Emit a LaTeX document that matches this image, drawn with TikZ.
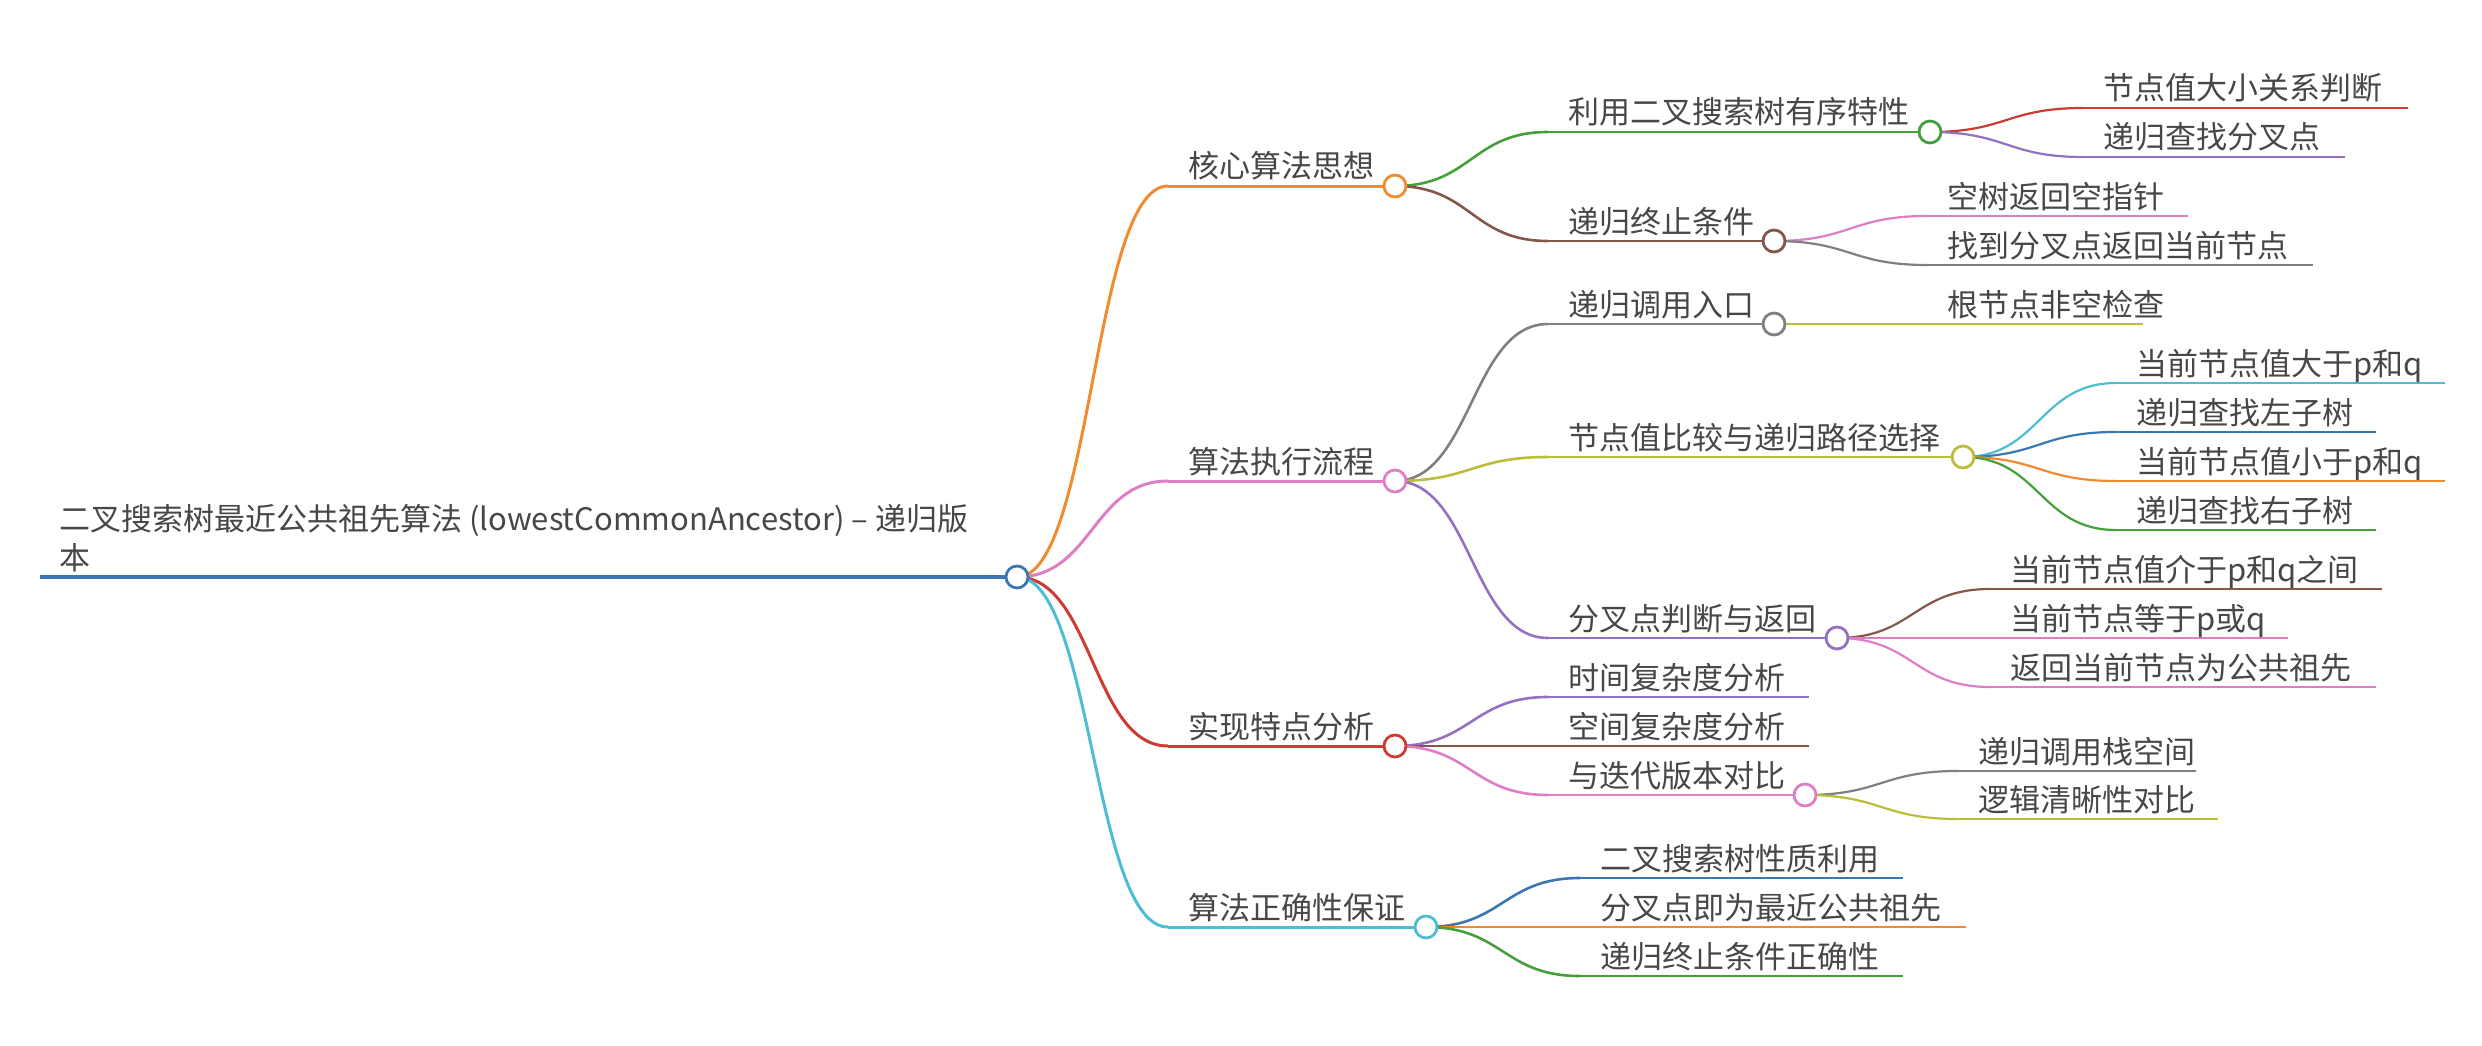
\documentclass[tikz,border=0pt]{standalone}
\usepackage{fontspec}
\setmainfont{Noto Sans CJK SC}
\usetikzlibrary{calc}
\definecolor{cBlue}{HTML}{3A77B3}
\definecolor{cOrange}{HTML}{F28A30}
\definecolor{cGreen}{HTML}{45A03C}
\definecolor{cRed}{HTML}{CD3B33}
\definecolor{cPurple}{HTML}{9470C0}
\definecolor{cBrown}{HTML}{85574B}
\definecolor{cPink}{HTML}{DE7EC6}
\definecolor{cGray}{HTML}{808080}
\definecolor{cOlive}{HTML}{BCBD3A}
\definecolor{cCyan}{HTML}{4CBDD2}
\definecolor{txt}{HTML}{474747}
\tikzset{
  lbl/.style={anchor=base west, inner sep=0pt, text=txt, font=\fontsize{31}{40}\selectfont},
  dot/.style={circle, draw=#1, fill=white, line width=2.8pt, minimum size=22pt, inner sep=0pt},
  lw0/.style={line width=4.5pt},
  lw1/.style={line width=3pt},
  lw2/.style={line width=2.6pt},
  lw3/.style={line width=2.2pt},
}
% name, style(color+width), x0, x1, y, text
\newcommand\mmnode[6]{%
  \coordinate (#1-s) at (#3,#5);
  \coordinate (#1-e) at (#4,#5);
  \draw[#2] (#1-s) -- (#1-e);
  \node[lbl] (#1) at ({#3+20},{#5-8}) {#6};
}
\newcommand\mmlink[3]{%
  \draw[#1] let \p1=(#2), \p2=(#3) in (#2) .. controls ({(\x1+\x2)/2},\y1) and ({(\x1+\x2)/2},\y2) .. (#3);
}
\begin{document}
\begin{tikzpicture}[x=1pt,y=-1pt]
\useasboundingbox (0,0) rectangle (2482,1046);
% root
\coordinate (R-s) at (40,577);
\coordinate (R-e) at (1017,577);
\draw[cBlue,lw0] (R-s) -- (R-e);
\node[lbl] (R) at (59,530) {二叉搜索树最近公共祖先算法 (lowestCommonAncestor) – 递归版};
\node[lbl] (R2) at (59,569) {本};

% level 1
\mmnode{A}{cOrange,lw1}{1168}{1395}{186}{核心算法思想}
\mmnode{B}{cPink,lw1}{1168}{1395}{481}{算法执行流程}
\mmnode{C}{cRed,lw1}{1168}{1395}{746}{实现特点分析}
\mmnode{D}{cCyan,lw1}{1168}{1426}{927}{算法正确性保证}
\mmlink{cOrange,lw1}{R-e}{A-s}
\mmlink{cPink,lw1}{R-e}{B-s}
\mmlink{cRed,lw1}{R-e}{C-s}
\mmlink{cCyan,lw1}{R-e}{D-s}

% level 2
\mmnode{A1}{cGreen,lw2}{1548}{1930}{132}{利用二叉搜索树有序特性}
\mmnode{A2}{cBrown,lw2}{1548}{1774}{241}{递归终止条件}
\mmnode{B1}{cGray,lw2}{1548}{1774}{324}{递归调用入口}
\mmnode{B2}{cOlive,lw2}{1548}{1963}{457}{节点值比较与递归路径选择}
\mmnode{B3}{cPurple,lw2}{1548}{1837}{638}{分叉点判断与返回}
\mmnode{C1}{cPurple,lw2}{1548}{1809}{697}{时间复杂度分析}
\mmnode{C2}{cBrown,lw2}{1548}{1809}{746}{空间复杂度分析}
\mmnode{C3}{cPink,lw2}{1548}{1805}{795}{与迭代版本对比}
\mmnode{D1}{cBlue,lw2}{1580}{1903}{878}{二叉搜索树性质利用}
\mmnode{D2}{cOrange,lw2}{1580}{1966}{927}{分叉点即为最近公共祖先}
\mmnode{D3}{cGreen,lw2}{1580}{1903}{976}{递归终止条件正确性}
\mmlink{cGreen,lw2}{A-e}{A1-s}
\mmlink{cBrown,lw2}{A-e}{A2-s}
\mmlink{cGray,lw2}{B-e}{B1-s}
\mmlink{cOlive,lw2}{B-e}{B2-s}
\mmlink{cPurple,lw2}{B-e}{B3-s}
\mmlink{cPurple,lw2}{C-e}{C1-s}
\mmlink{cBrown,lw2}{C-e}{C2-s}
\mmlink{cPink,lw2}{C-e}{C3-s}
\mmlink{cBlue,lw2}{D-e}{D1-s}
\mmlink{cOrange,lw2}{D-e}{D2-s}
\mmlink{cGreen,lw2}{D-e}{D3-s}

% level 3
\mmnode{A1a}{cRed,lw3}{2083}{2408}{108}{节点值大小关系判断}
\mmnode{A1b}{cPurple,lw3}{2083}{2345}{157}{递归查找分叉点}
\mmnode{A2a}{cPink,lw3}{1927}{2188}{216}{空树返回空指针}
\mmnode{A2b}{cGray,lw3}{1927}{2313}{265}{找到分叉点返回当前节点}
\mmnode{B1a}{cOlive,lw3}{1927}{2143}{324}{根节点非空检查}
\mmnode{B2a}{cCyan,lw3}{2116}{2445}{383}{当前节点值大于p和q}
\mmnode{B2b}{cBlue,lw3}{2116}{2376}{432}{递归查找左子树}
\mmnode{B2c}{cOrange,lw3}{2116}{2445}{481}{当前节点值小于p和q}
\mmnode{B2d}{cGreen,lw3}{2116}{2376}{530}{递归查找右子树}
\mmnode{B3a}{cBrown,lw3}{1990}{2382}{589}{当前节点值介于p和q之间}
\mmnode{B3b}{cPink,lw3}{1990}{2288}{638}{当前节点等于p或q}
\mmnode{B3c}{cPink,lw3}{1990}{2376}{687}{返回当前节点为公共祖先}
\mmnode{C3a}{cGray,lw3}{1958}{2196}{771}{递归调用栈空间}
\mmnode{C3b}{cOlive,lw3}{1958}{2218}{819}{逻辑清晰性对比}
\mmlink{cRed,lw3}{A1-e}{A1a-s}
\mmlink{cPurple,lw3}{A1-e}{A1b-s}
\mmlink{cPink,lw3}{A2-e}{A2a-s}
\mmlink{cGray,lw3}{A2-e}{A2b-s}
\mmlink{cOlive,lw3}{B1-e}{B1a-s}
\mmlink{cCyan,lw3}{B2-e}{B2a-s}
\mmlink{cBlue,lw3}{B2-e}{B2b-s}
\mmlink{cOrange,lw3}{B2-e}{B2c-s}
\mmlink{cGreen,lw3}{B2-e}{B2d-s}
\mmlink{cBrown,lw3}{B3-e}{B3a-s}
\mmlink{cPink,lw3}{B3-e}{B3b-s}
\mmlink{cPink,lw3}{B3-e}{B3c-s}
\mmlink{cGray,lw3}{C3-e}{C3a-s}
\mmlink{cOlive,lw3}{C3-e}{C3b-s}

% circles
\node[dot=cBlue] (Rc) at (R-e) {};
\node[dot=cOrange] (Ac) at (A-e) {};
\node[dot=cPink] (Bc) at (B-e) {};
\node[dot=cRed] (Cc) at (C-e) {};
\node[dot=cCyan] (Dc) at (D-e) {};
\node[dot=cGreen] (A1c) at (A1-e) {};
\node[dot=cBrown] (A2c) at (A2-e) {};
\node[dot=cGray] (B1c) at (B1-e) {};
\node[dot=cOlive] (B2c) at (B2-e) {};
\node[dot=cPurple] (B3c) at (B3-e) {};
\node[dot=cPink] (C3c) at (C3-e) {};
\end{tikzpicture}
\end{document}
